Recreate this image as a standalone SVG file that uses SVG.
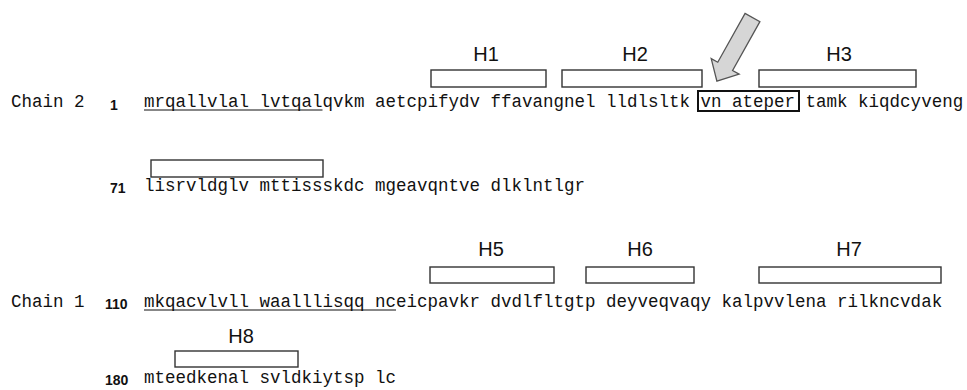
<svg xmlns="http://www.w3.org/2000/svg" width="967" height="390" viewBox="0 0 967 390">
  <style>
    .seq { font-family: "Liberation Mono", "Courier New", monospace; font-size: 17.5px; fill: #111; }
    .num { font-family: "Liberation Sans", Arial, sans-serif; font-size: 14px; font-weight: bold; fill: #111; }
    .hl { font-family: "Liberation Sans", Arial, sans-serif; font-size: 20px; fill: #111; text-anchor: middle; }
    .helix { fill: #fff; stroke: #333; stroke-width: 1.4; }
    .ul { stroke: #111; stroke-width: 1.2; }
  </style>
  <rect width="967" height="390" fill="#fff"/>

  <!-- Chain 2 -->
  <g id="chain2-row1">
    <text class="seq" x="11" y="107">Chain 2</text>
    <text class="num" x="110" y="110">1</text>
    <text class="seq" x="144" y="107" xml:space="preserve">mrqallvlal lvtqalqvkm aetcpifydv ffavangnel lldlsltk vn ateper tamk kiqdcyveng</text>
    <line class="ul" x1="144" y1="110" x2="322.5" y2="110"/>
    <rect x="698" y="91" width="101" height="20" fill="none" stroke="#111" stroke-width="2"/>
  </g>
  <g id="H1"><rect class="helix" x="431" y="70" width="115" height="17"/><text class="hl" x="486" y="61">H1</text></g>
  <g id="H2"><rect class="helix" x="562" y="70" width="140" height="17"/><text class="hl" x="635" y="61">H2</text></g>
  <g id="H3"><rect class="helix" x="759" y="70" width="157" height="17"/><text class="hl" x="839" y="61">H3</text></g>

  <g id="chain2-row2">
    <text class="num" x="110" y="193">71</text>
    <text class="seq" x="144" y="191">lisrvldglv mttissskdc mgeavqntve dlklntlgr</text>
  </g>
  <g id="H4"><rect class="helix" x="151" y="160" width="172" height="17"/></g>

  <!-- Chain 1 -->
  <g id="chain1-row1">
    <text class="seq" x="11" y="307">Chain 1</text>
    <text class="num" x="105" y="309">110</text>
    <text class="seq" x="144" y="307">mkqacvlvll waalllisqq nceicpavkr dvdlfltgtp deyveqvaqy kalpvvlena rilkncvdak</text>
    <line class="ul" x1="144" y1="310" x2="396" y2="310"/>
  </g>
  <g id="H5"><rect class="helix" x="430" y="267" width="124" height="16"/><text class="hl" x="491" y="256">H5</text></g>
  <g id="H6"><rect class="helix" x="586" y="267" width="108" height="16"/><text class="hl" x="640" y="256">H6</text></g>
  <g id="H7"><rect class="helix" x="759" y="267" width="182" height="16"/><text class="hl" x="849" y="256">H7</text></g>

  <g id="chain1-row2">
    <text class="num" x="105" y="385">180</text>
    <text class="seq" x="144" y="383">mteedkenal svldkiytsp lc</text>
  </g>
  <g id="H8"><rect class="helix" x="175" y="351" width="123" height="16"/><text class="hl" x="241" y="343">H8</text></g>

  <!-- pointer to the boxed segment -->
  <g id="connectors">
    <polygon transform="translate(752.5,17.5) rotate(119.2)" points="0,-8.5 56,-8.5 56,-16 73,0 56,16 56,8.5 0,8.5" fill="#d6d6d6" stroke="#555" stroke-width="1.3" stroke-linejoin="miter"/>
  </g>
</svg>
